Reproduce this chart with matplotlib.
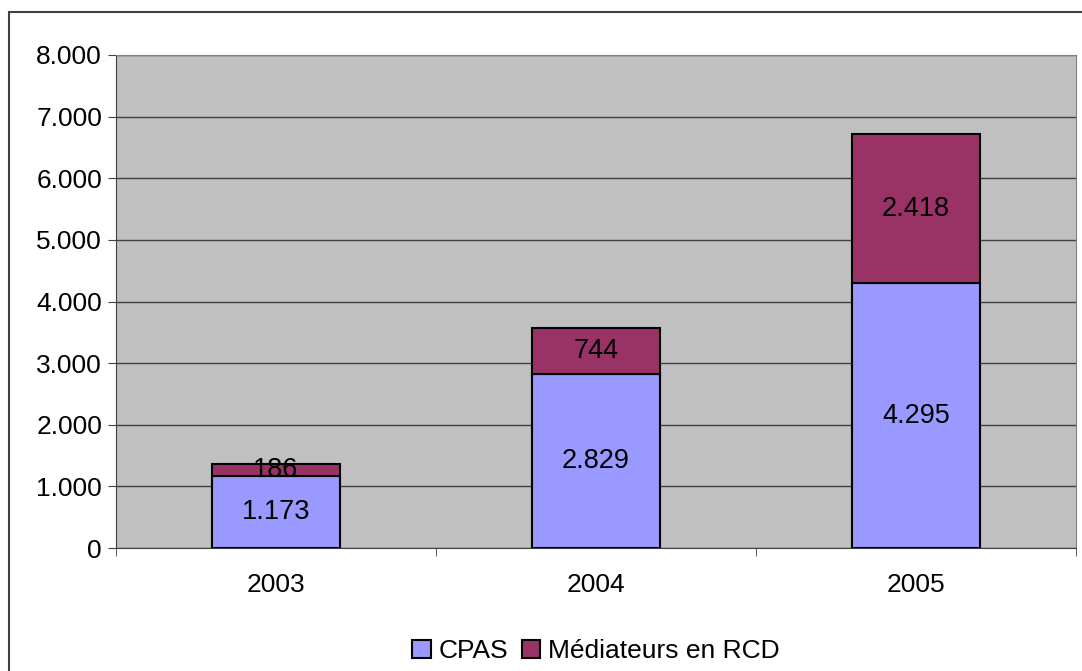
import matplotlib.pyplot as plt
import numpy as np
from matplotlib.patches import Rectangle

plt.rcParams["font.family"] = ["Liberation Sans", "DejaVu Sans"]

years = ["2003", "2004", "2005"]
cpas = [1173, 2829, 4295]
mediateurs = [186, 744, 2418]
yticks = [0, 1000, 2000, 3000, 4000, 5000, 6000, 7000, 8000]


def fmt(v):
    return f"{v:,}".replace(",", ".")


W, H = 1082, 671
fig = plt.figure(figsize=(W / 100, H / 100), dpi=100)
ax = fig.add_axes([116 / W, 1 - 548 / H, 960 / W, 493 / H])
ax.set_facecolor("#C0C0C0")

x = np.arange(len(years))
width = 0.4
ax.bar(x, cpas, width, color="#9999FF", edgecolor="black", linewidth=1.5,
       label="CPAS", zorder=3)
ax.bar(x, mediateurs, width, bottom=cpas, color="#993366", edgecolor="black",
       linewidth=1.5, label="Médiateurs en RCD", zorder=3)

for i in range(len(years)):
    ax.text(x[i], cpas[i] / 2, fmt(cpas[i]), ha="center", va="center",
            fontsize=19.5, zorder=4)
    ax.text(x[i], cpas[i] + mediateurs[i] / 2, fmt(mediateurs[i]), ha="center",
            va="center", fontsize=19.5, zorder=4)

ax.set_xlim(-0.5, 2.5)
ax.set_ylim(0, 8000)
ax.set_yticks(yticks)
ax.set_yticklabels([fmt(v) for v in yticks], fontsize=19)
ax.set_xticks(x)
ax.set_xticklabels(years, fontsize=19)
ax.tick_params(axis="x", length=0, pad=18)
ax.set_xticks([-0.5, 0.5, 1.5, 2.5], minor=True)
ax.tick_params(axis="x", which="minor", length=6, color="#404040")
ax.tick_params(axis="y", length=6, color="#404040", pad=4)
ax.yaxis.grid(True, color="#404040", linewidth=1, zorder=0)
ax.set_axisbelow(True)
for side in ["top", "right"]:
    ax.spines[side].set_color("#808080")
for side in ["left", "bottom"]:
    ax.spines[side].set_color("#404040")

fig.patches.append(Rectangle((9 / W, -0.01), 1.1, 1 - 12 / H + 0.01,
                             transform=fig.transFigure, fill=False,
                             edgecolor="#404040", linewidth=1.5))

ax.legend(loc="center", bbox_to_anchor=(0.5, -(651 - 548) / 493), ncol=2,
          frameon=False, fontsize=19, handlelength=0.7, handleheight=0.7,
          handletextpad=0.3, columnspacing=0.5)

fig.savefig("out.png", dpi=100)
